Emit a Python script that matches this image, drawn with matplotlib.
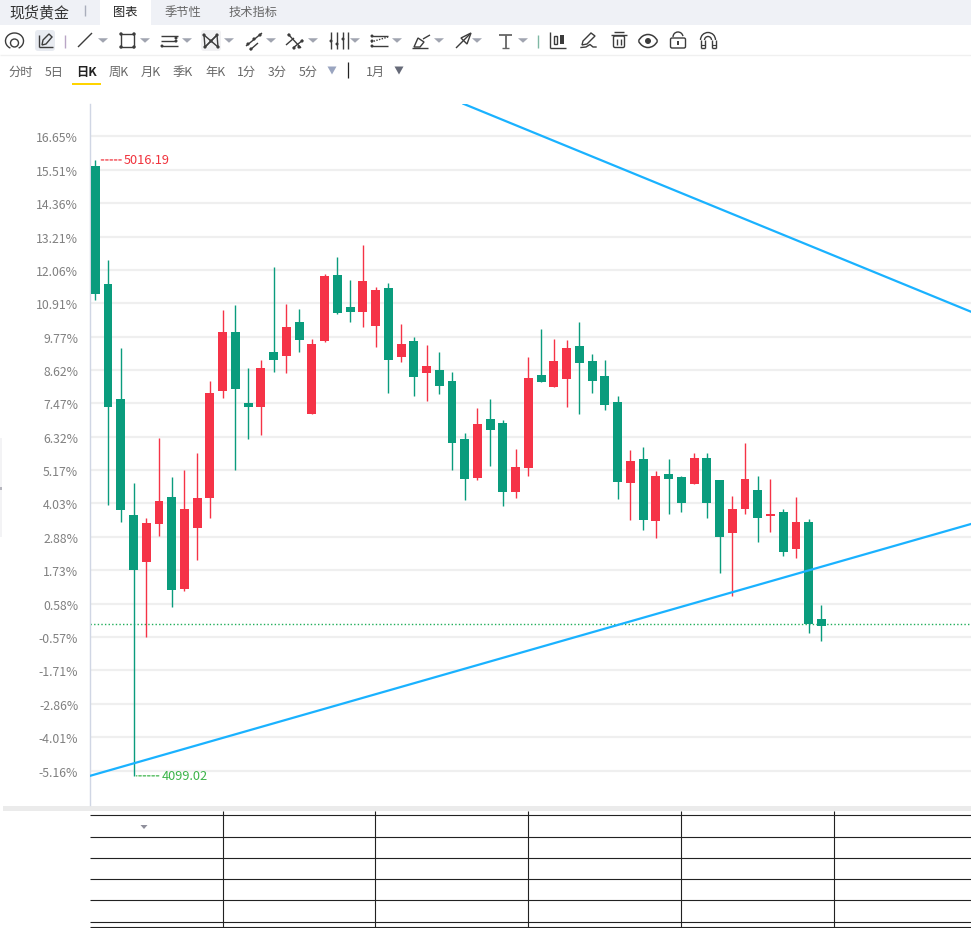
import numpy as np
import matplotlib
matplotlib.use('Agg')
import matplotlib.pyplot as plt
from matplotlib.patches import Rectangle, Circle, Arc, FancyBboxPatch, Polygon

plt.rcParams['font.family'] = ['Noto Sans CJK SC', 'DejaVu Sans']

# Candles, in price
opens = [5007, 4832, 4660, 4488, 4418, 4474, 4514, 4377, 4468, 4513, 4672, 4760, 4654, 4648, 4730, 4724, 4774, 4638, 4747,
         4845, 4797, 4790, 4769, 4826, 4723, 4747, 4699, 4704, 4687, 4601, 4543, 4631, 4625, 4522, 4558, 4696, 4678, 4690,
         4739, 4717, 4695, 4656, 4535, 4571, 4479, 4549, 4544, 4534, 4572, 4540, 4461, 4497, 4525, 4486, 4492, 4437, 4477, 4333]
closes = [4817, 4648, 4495, 4406, 4476, 4508, 4376, 4497, 4513, 4669, 4760, 4675, 4648, 4706, 4718, 4768, 4748, 4742, 4843,
          4788, 4790, 4836, 4823, 4718, 4742, 4693, 4709, 4680, 4595, 4541, 4623, 4614, 4522, 4559, 4692, 4686, 4717, 4736,
          4714, 4687, 4651, 4537, 4568, 4480, 4546, 4541, 4505, 4572, 4505, 4455, 4497, 4541, 4483, 4489, 4433, 4477, 4325, 4322]
highs = [5016, 4867, 4736, 4535, 4483, 4602, 4544, 4555, 4580, 4687, 4793, 4800, 4706, 4718, 4857, 4802, 4794, 4750, 4846,
         4872, 4838, 4890, 4827, 4833, 4772, 4753, 4741, 4730, 4701, 4610, 4647, 4660, 4629, 4586, 4723, 4765, 4750, 4748,
         4774, 4727, 4718, 4665, 4584, 4589, 4553, 4571, 4546, 4580, 4580, 4540, 4516, 4595, 4546, 4541, 4497, 4514, 4482, 4354]
lows = [4808, 4503, 4477, 4099, 4306, 4456, 4351, 4374, 4421, 4483, 4662, 4555, 4601, 4607, 4701, 4699, 4730, 4638, 4745,
        4787, 4774, 4768, 4738, 4669, 4715, 4665, 4657, 4668, 4555, 4510, 4540, 4561, 4501, 4513, 4546, 4686, 4678, 4648,
        4638, 4669, 4644, 4511, 4480, 4465, 4453, 4489, 4492, 4534, 4483, 4401, 4367, 4489, 4447, 4462, 4427, 4424, 4312, 4300]

tick_pcts = [16.65, 15.51, 14.36, 13.21, 12.06, 10.91, 9.77, 8.62, 7.47, 6.32, 5.17, 4.03, 2.88, 1.73, 0.58,
             -0.57, -1.71, -2.86, -4.01, -5.16]
ref_price = 4330
last_price = 4325
max_label = '5016.19'
min_label = '4099.02'

# Trend lines, candle index and price
upper_x = [28.9, 68.74]
upper_y = [5099.6, 4790]
lower_x = [-0.416, 68.74]
lower_y = [4099, 4474]

tabs = ['图表', '季节性', '技术指标']
periods = ['分时', '5日', '日K', '周K', '月K', '季K', '年K', '1分', '3分', '5分']
period_x = [21, 54, 86, 119, 151, 183, 216, 246, 277, 308]

W, H = 971, 929
fig = plt.figure(figsize=(W / 100, H / 100), dpi=100, facecolor='white')

# Overlay in pixel units for the toolbar and the empty table
bg = fig.add_axes([0, 0, 1, 1])
bg.set_xlim(0, W)
bg.set_ylim(H, 0)
bg.axis('off')

ICON = '#3c3c3c'


def seg(x0, y0, x1, y1, color=ICON, lw=1.0, **kw):
    bg.plot([x0, x1], [y0, y1], color=color, lw=lw, solid_capstyle='butt', **kw)


def dots(pts, size=2.0, color=ICON):
    for p in pts:
        bg.add_patch(Circle(p, size, color=color, lw=0))


def tri(x, y, w=5, h=4.5, color='#a0a4b0'):
    bg.add_patch(Polygon([(x - w, y - h / 2), (x + w, y - h / 2), (x, y + h / 2)], color=color, lw=0))


# Tab bar
bg.add_patch(Rectangle((0, 0), W, 26, color='#eff1f6', lw=0))
bg.add_patch(Rectangle((100, 0), 51, 26, color='white', lw=0))
bg.text(39, 12.5, '现货黄金', fontsize=10.8, color='#333333', ha='center', va='center')
seg(84.5, 6, 84.5, 17, color='#a9aebb', lw=1)
bg.text(125, 12.5, tabs[0], fontsize=8.8, color='#222222', ha='center', va='center')
bg.text(183, 12.5, tabs[1], fontsize=8.8, color='#666666', ha='center', va='center')
bg.text(253, 12.5, tabs[2], fontsize=8.8, color='#666666', ha='center', va='center')

# Toolbar
seg(0, 55.5, W, 55.5, color='#f0f0f0', lw=1)
bg.add_patch(FancyBboxPatch((36, 32), 18, 19, boxstyle='round,pad=1,rounding_size=3', color='#e8ebf1', lw=0))
bg.add_patch(FancyBboxPatch((202, 32), 18, 19, boxstyle='round,pad=1,rounding_size=3', color='#f1f1f3', lw=0))

# circle icon
bg.add_patch(Arc((14.5, 42), 18, 16, theta1=120, theta2=60, color=ICON, lw=1.0))
bg.add_patch(Circle((14.5, 44), 4, fill=False, ec=ICON, lw=1.0))
# pencil icon
seg(39, 36, 39, 48)
seg(39, 48, 53, 48)
bg.add_patch(Polygon([(42, 46), (43, 41), (49, 35), (52, 38), (46, 45)], fill=False, ec=ICON, lw=1.0))
seg(64.5, 36, 64.5, 49, color='#b9a6c6', lw=1)
# line
seg(78, 48, 92, 34)
tri(103, 41.5)
# rectangle
bg.add_patch(Rectangle((121, 35), 13, 13, fill=False, ec=ICON, lw=1.0))
dots([(121, 35), (134, 35), (121, 48), (134, 48)], 1.7)
tri(145, 41.5)
# channels
for y, x0, x1 in [(37, 161, 178), (42, 161, 176), (47, 161, 178)]:
    seg(x0, y, x1, y)
dots([(176, 39), (162, 47), (176, 42)], 1.5)
tri(187, 41.5)
# XABCD
pts = [(204, 36), (205, 48), (211, 42), (217, 36), (218, 48)]
bg.plot([p[0] for p in pts], [p[1] for p in pts], color=ICON, lw=1.0)
seg(204, 36, 218, 48)
seg(205, 48, 217, 36)
dots(pts, 1.6)
tri(229, 41.5)
# parallel
seg(246, 47, 262, 34)
seg(250, 51, 258, 44)
dots([(248, 45), (254, 40), (260, 36), (251, 50)], 1.6)
tri(271, 41.5)
# crossed
seg(288, 35, 301, 49)
seg(293, 49, 303, 41)
seg(286, 46, 294, 39)
dots([(289, 36), (294, 49), (302, 42), (299, 48)], 1.6)
tri(313, 41.5)
# vertical lines
for x in [331, 337, 343, 348]:
    seg(x, 33, x, 50)
dots([(331, 42), (337, 45), (343, 40)], 1.5)
tri(355, 41.5)
# dotted lines
seg(371, 37, 388, 37)
seg(371, 47, 388, 47)
bg.plot([371, 388], [43, 38], color=ICON, lw=1, ls=(0, (1, 1)))
dots([(372, 37), (372, 42), (372, 47)], 1.5)
tri(397, 41.5)
# brush
seg(412, 49, 428, 49, lw=1)
bg.add_patch(Polygon([(414, 48), (418, 39), (424, 43), (420, 48)], fill=False, ec=ICON, lw=1))
seg(423, 40, 430, 36, lw=1)
tri(439, 41.5)
# arrow
seg(456, 49, 470, 35)
bg.add_patch(Polygon([(461, 39), (471, 34), (467, 45)], fill=False, ec=ICON, lw=1.0))
tri(477, 41.5)
# T
seg(499, 35.5, 512, 35.5, color='#666666', lw=1.3)
seg(505.5, 35.5, 505.5, 48.5, color='#666666', lw=1.3)
seg(502, 48.5, 509, 48.5, color='#666666', lw=1)
tri(523, 41.5)
seg(537.5, 36, 537.5, 49, color='#7fb8a4', lw=1)
# candle icon
seg(550, 33, 550, 49)
seg(550, 49, 566, 49)
bg.add_patch(Rectangle((554, 37), 3, 8, fill=False, ec=ICON, lw=1))
bg.add_patch(Rectangle((560, 36), 3.5, 9, color=ICON, lw=0))
# pen
bg.add_patch(Polygon([(582, 46), (583, 42), (591, 34), (595, 37), (587, 45)], fill=False, ec=ICON, lw=1.0))
bg.plot([581, 586, 590, 593, 596], [48.5, 48, 45.5, 48, 48], color=ICON, lw=1)
# trash
seg(611, 36, 627, 36)
seg(614, 33, 624, 33)
bg.add_patch(FancyBboxPatch((613.5, 37), 11, 11.5, boxstyle='round,pad=0,rounding_size=1.5', fill=False, ec=ICON, lw=1.0))
seg(617, 39.5, 617, 45.5)
seg(621, 39.5, 621, 45.5)
# eye
bg.add_patch(Arc((648, 48.5), 22, 26, theta1=215, theta2=325, color=ICON, lw=1.1))
bg.add_patch(Arc((648, 35.5), 22, 26, theta1=35, theta2=145, color=ICON, lw=1.1))
bg.add_patch(Circle((648, 42), 3.0, color=ICON, lw=0))
# lock
bg.add_patch(FancyBboxPatch((670.5, 39), 15, 10, boxstyle='round,pad=0,rounding_size=1.5', fill=False, ec=ICON, lw=1.0))
bg.add_patch(Arc((678, 38), 10, 10, theta1=180, theta2=350, color=ICON, lw=1.0))
seg(678, 42, 678, 46, lw=1.4)
# magnet
bg.add_patch(Arc((708, 41), 15, 15, theta1=180, theta2=360, color=ICON, lw=1.0))
bg.add_patch(Arc((708, 41), 7, 7, theta1=180, theta2=360, color=ICON, lw=1.0))
for x0, x1 in [(700.5, 704.5), (711.5, 715.5)]:
    seg(x0, 41, x0, 49)
    seg(x1, 41, x1, 49)
    seg(x0, 49, x1, 49)
    seg(x0, 46, x1, 46, lw=0.8)

# Period row
for label, x in zip(periods, period_x):
    bold = label == '日K'
    bg.text(x, 72.5, label, fontsize=8.8, ha='center', va='center',
            color='#222222' if bold else '#666666', fontweight='bold' if bold else 'normal')
bg.add_patch(Rectangle((72, 84), 29, 2, color='#ffd400', lw=0))
tri(332, 71.5, 4.5, 8, '#9aa5c0')
seg(347.5, 63, 347.5, 79, color='#222222', lw=0.9)
bg.text(375, 72.5, '1月', fontsize=8.8, color='#666666', ha='center', va='center')
tri(399, 71.5, 4.5, 8, '#666a78')

# Strip on the left edge
bg.add_patch(Rectangle((0, 439), 2, 99, color='#f3f3f5', lw=0))
bg.add_patch(Rectangle((0, 488), 2, 3, color='#b5b5bd', lw=0))

# Divider and table with no text
bg.add_patch(Rectangle((3, 807), W - 3, 5, color='#ebebeb', lw=0))
for y in [815.5, 837.5, 858.5, 879.5, 900.5, 922.5, 927.5]:
    seg(90, y, W, y, color='#222222', lw=0.8)
for x in [223, 375, 528, 681, 834]:
    seg(x, 812, x, H, color='#222222', lw=0.8)
tri(144, 828, 3.5, 4, '#8f8f9b')

# Price chart
ax = fig.add_axes([90 / W, 1 - 806 / H, (W - 90) / W, (806 - 105) / H])
ax.patch.set_alpha(0)
ax.set_xlim(-0.416, 68.74)
ax.set_ylim(4055.6, 5099.3)

ticks = [ref_price * (1 + p / 100) for p in tick_pcts]
ax.set_yticks(ticks)
ax.set_yticklabels(['%.2f%%' % p for p in tick_pcts], fontsize=8.8, color='#808080')
ax.tick_params(axis='y', length=0, pad=8.5)
ax.set_xticks([])
for name, s in ax.spines.items():
    s.set_visible(name == 'left')
ax.spines['left'].set_color('#d0d6e4')
ax.spines['left'].set_linewidth(1)
ax.grid(axis='y', color='#efefef', lw=1.6)
ax.set_axisbelow(True)

GREEN = '#0a9c7d'
RED = '#f53347'
idx = np.arange(len(opens))
o = np.array(opens)
c = np.array(closes)
colors = [RED if c[i] > o[i] else GREEN for i in idx]
ax.vlines(idx, lows, highs, colors=colors, lw=1.0, zorder=3)
ax.bar(idx, np.abs(c - o), bottom=np.minimum(o, c), width=0.7, color=colors, lw=0, zorder=3)

ax.axhline(last_price, color='#1fae5a', lw=1.0, ls=(0, (1, 1.6)), zorder=2)
ax.plot(upper_x, upper_y, color='#1ab2ff', lw=1.6, zorder=4)
ax.plot(lower_x, lower_y, color='#1ab2ff', lw=1.6, zorder=4)

hi = int(np.argmax(highs))
lo = int(np.argmin(lows))
ax.annotate(max_label, (hi, highs[hi]), xytext=(20.7, 0), textcoords='offset points',
            color='#f0323c', fontsize=9.2, va='center',
            arrowprops=dict(arrowstyle='-', color='#f0323c', lw=0.9, ls=(0, (2, 1.5)), shrinkA=0, shrinkB=3))
ax.annotate(min_label, (lo, lows[lo]), xytext=(20.2, 0), textcoords='offset points',
            color='#3cb44a', fontsize=9.2, va='center',
            arrowprops=dict(arrowstyle='-', color='#3cb44a', lw=0.9, ls=(0, (2, 1.5)), shrinkA=0, shrinkB=2))

fig.savefig('out.png', dpi=100)
